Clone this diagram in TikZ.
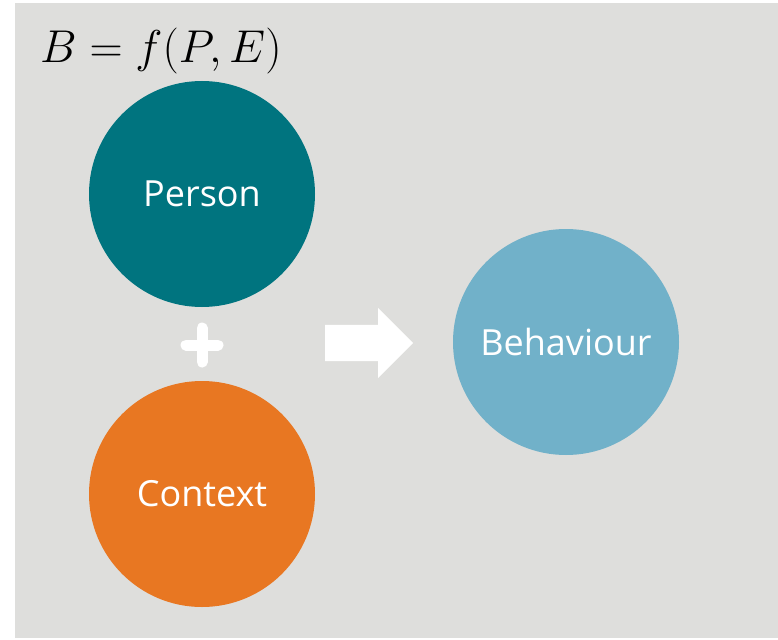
\RequirePackage{fix-cm}
\documentclass[tikz,border=0pt]{standalone}
\usepackage{amsmath}
\usepackage{fontspec}
\setsansfont{Open Sans}
\usetikzlibrary{shapes.arrows,positioning}

\definecolor{bggray}{HTML}{DEDEDC}
\definecolor{personteal}{HTML}{00747F}
\definecolor{contextorange}{HTML}{E87722}
\definecolor{behavblue}{HTML}{71B1C9}

\begin{document}
\begin{tikzpicture}[x=1pt,y=-1pt,node distance=300pt,on grid]
  \tikzstyle{blob}=[circle,minimum size=226pt,inner sep=0pt,text=white,
    font=\sffamily\fontsize{36}{36}\selectfont]
  \tikzstyle{plusbar}=[white,line width=11pt,line cap=round]
  \useasboundingbox (0,0) rectangle (778,639);
  \fill[bggray] (15,3) rectangle (778,638);

  % Formula
  \node[anchor=base west,inner sep=0pt,font=\fontsize{46}{46}\selectfont]
    (formula) at (40,63) {$B=f(P,E)$};

  % Circles
  \node[blob,fill=personteal] (person) at (202,194) {Person};
  \node[blob,fill=contextorange,below=of person] (context) {Context};
  \node[blob,fill=behavblue] (behaviour) at (566,342) {Behaviour};

  % Plus and arrow
  \coordinate (plus) at (202,345);
  \draw[plusbar] ([xshift=-16pt]plus) -- ([xshift=16pt]plus);
  \draw[plusbar] ([yshift=-17pt]plus) -- ([yshift=17pt]plus);
  \node[single arrow,fill=white,minimum height=88pt,inner xsep=0pt,
    inner ysep=18pt,single arrow head extend=17pt,anchor=tail]
    (arrow) at (325,343) {};
\end{tikzpicture}
\end{document}
